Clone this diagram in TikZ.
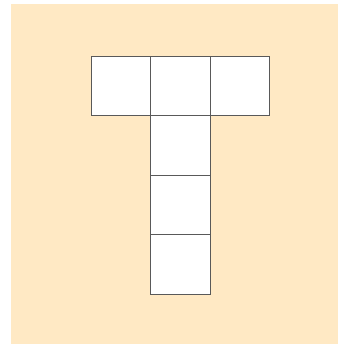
\documentclass[tikz,border=0pt]{standalone}
\usepackage{xcolor}
\usetikzlibrary{positioning}
\definecolor{sandbg}{RGB}{255,233,196}
\tikzset{
  cell/.style={rectangle, draw=black!65, line width=0.8pt, fill=white,
               minimum size=1.785cm, inner sep=0pt},
}
\begin{document}
\begin{tikzpicture}[x=0.03cm,y=-0.03cm]
\useasboundingbox (0,0) rectangle (338,344);
\fill[sandbg] (11,4) rectangle (338,344);
\node[cell] (tl) at (120.75,85.75) {};
\node[cell] (tm) at (180.25,85.75) {};
\node[cell] (tr) at (239.75,85.75) {};
\node[cell] (s1) at (180.25,145.25) {};
\node[cell] (s2) at (180.25,204.75) {};
\node[cell] (s3) at (180.25,264.25) {};
\end{tikzpicture}
\end{document}
